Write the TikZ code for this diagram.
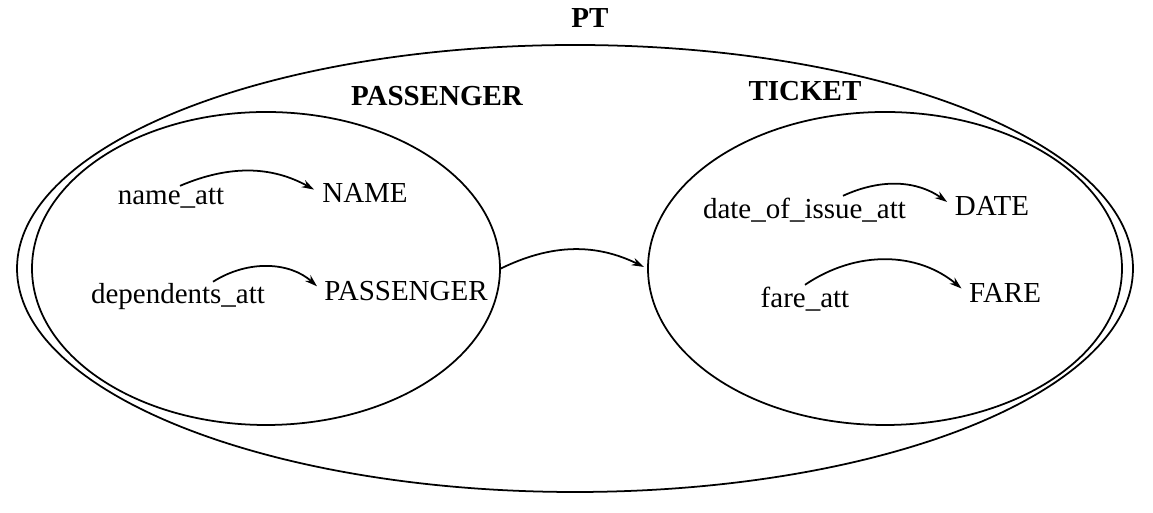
\documentclass[tikz,border=0pt]{standalone}
\usepackage{fontspec}
\setmainfont{Liberation Serif}
\usepackage{tikz}
\usetikzlibrary{shapes.geometric,arrows.meta}

\begin{document}
\begin{tikzpicture}[
    lbl/.style={inner sep=1pt, font=\fontsize{16.5}{19}\selectfont},
    setlbl/.style={inner sep=1pt, font=\fontsize{16.5}{19}\selectfont\bfseries},
    blob/.style={ellipse, draw, line width=1pt, inner sep=0pt},
    att/.style={-{Stealth[length=7pt,width=4.5pt]}, line width=1pt}
]

\useasboundingbox (0,0) rectangle (23.06,10.26);

 \node [blob, minimum width=22.32cm, minimum height=8.94cm] (pt) at (11.5, 4.89) {};
 \node [blob, minimum width=9.36cm, minimum height=6.26cm] (passenger) at (5.32, 4.89) {};
 \node [blob, minimum width=9.48cm, minimum height=6.26cm] (ticket) at (17.7, 4.89) {};

\node [setlbl] (ptlbl) at (11.8, 9.9) {PT};
\node [setlbl] (passengerlbl) at (8.74, 8.34) {PASSENGER};
\node [setlbl] (ticketlbl) at (16.1, 8.44) {TICKET};

% attributes of PASSENGER
\node [lbl] (nameatt) at (3.42, 6.3) {name\_att};
\node [lbl] (name) at (7.3, 6.4) {NAME};
\node [lbl] (depatt) at (3.56, 4.32) {dependents\_att};
\node [lbl] (dep) at (8.12, 4.44) {PASSENGER};

% attributes of TICKET
\node [lbl] (dateatt) at (16.09, 6.06) {date\_of\_issue\_att};
\node [lbl] (date) at (19.84, 6.14) {DATE};
\node [lbl] (fareatt) at (16.1, 4.28) {fare\_att};
\node [lbl] (fare) at (20.1, 4.4) {FARE};

 \draw [att, shorten >=4pt] ([xshift=0.18cm]nameatt.north) to[bend left=26] (name.west);
 \draw [att, shorten >=4pt] ([xshift=0.7cm]depatt.north) to[bend left=37] (dep.west);
 \draw [att, shorten >=4pt] ([xshift=0.77cm]dateatt.north) to[bend left=30] (date.west);
 \draw [att, shorten >=4pt] (fareatt.north) to[bend left=37] (fare.west);

 \draw [att, shorten >=2pt] (passenger.east) to[bend left=26] (ticket.west);

\end{tikzpicture}
\end{document}
